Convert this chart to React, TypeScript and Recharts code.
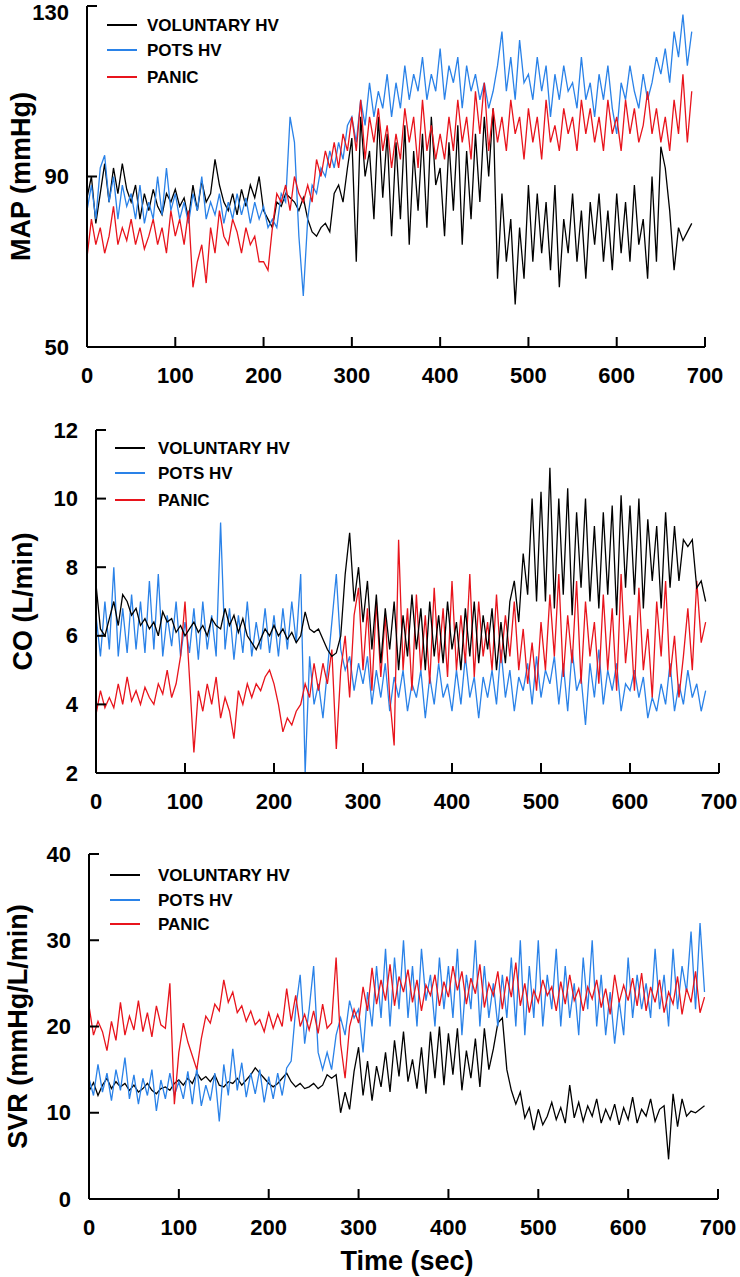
import React from 'react';
import { Legend, Line, LineChart, XAxis, YAxis } from 'recharts';

const STEP = 5;

const MAP_VOL = [
  85, 90, 79, 86, 93, 84, 92, 86, 93, 87,
  84, 88, 80, 86, 82, 87, 83, 81, 86, 84,
  87, 83, 85, 80, 88, 82, 89, 84, 86, 94,
  88, 84, 82, 86, 81, 87, 83, 88, 85, 90,
  82, 80, 78, 84, 83, 86, 85, 84, 82, 85,
  80, 77, 76, 78, 79, 77, 86, 88, 84, 92,
  99, 70, 104, 90, 96, 80, 104, 85, 100, 76,
  98, 80, 102, 74, 96, 82, 100, 78, 104, 88,
  92, 76, 98, 82, 102, 74, 96, 80, 100, 84,
  104, 90, 106, 66, 86, 70, 80, 60, 78, 66,
  88, 70, 86, 72, 84, 68, 88, 64, 80, 72,
  86, 70, 82, 66, 84, 74, 86, 70, 82, 68,
  86, 72, 84, 70, 88, 74, 80, 66, 90, 70,
  97, 92, 82, 68, 78, 75, 77, 79,
];
const MAP_POTS = [
  82, 88, 80, 92, 95, 84, 90, 80, 88, 83,
  86, 80, 88, 79, 84, 80, 90, 81, 92, 82,
  86, 80, 84, 79, 86, 82, 90, 80, 84, 81,
  86, 79, 84, 80, 86, 81, 85, 79, 84, 80,
  83, 78, 80, 78, 86, 84, 104, 98, 76, 62,
  80, 88, 86, 92, 90, 96, 92, 98, 94, 102,
  104, 98, 108, 102, 112, 104, 110, 106, 114, 104,
  112, 106, 116, 108, 114, 110, 118, 108, 114, 110,
  120, 108, 116, 112, 118, 106, 116, 110, 114, 108,
  112, 106, 110, 116, 124, 110, 118, 108, 122, 112,
  114, 108, 118, 110, 116, 104, 114, 108, 116, 110,
  112, 106, 118, 108, 112, 104, 114, 108, 116, 106,
  100, 112, 108, 116, 110, 106, 114, 108, 112, 118,
  114, 120, 112, 124, 118, 128, 116, 124,
];
const MAP_PANIC = [
  71, 80, 74, 78, 72, 76, 83, 74, 78, 75,
  80, 74, 78, 73, 76, 80, 74, 78, 72, 82,
  76, 80, 74, 82, 64, 70, 74, 65, 78, 72,
  82, 76, 74, 80, 77, 72, 78, 74, 76, 70,
  70, 68, 78, 86, 84, 88, 82, 90, 86, 84,
  88, 84, 94, 90, 96, 92, 98, 92, 100, 96,
  104, 96, 108, 94, 104, 98, 106, 96, 102, 92,
  100, 94, 106, 98, 104, 92, 108, 96, 102, 94,
  100, 94, 104, 96, 108, 98, 104, 94, 110, 100,
  112, 96, 106, 98, 104, 96, 108, 100, 104, 94,
  106, 98, 104, 94, 108, 98, 102, 96, 106, 100,
  104, 96, 108, 100, 106, 98, 104, 96, 108, 100,
  104, 96, 108, 100, 106, 98, 102, 110, 100, 106,
  98, 104, 96, 108, 100, 114, 98, 110,
];

const CO_VOL = [
  7.5, 6.2, 6.0, 6.5, 7.0, 6.3, 7.2, 7.0, 6.6, 6.8,
  6.3, 6.5, 6.2, 6.4, 6.0, 6.7, 6.4, 6.5, 6.1, 6.3,
  6.0, 6.2, 6.4, 6.1, 6.3, 6.0, 6.5, 6.3, 6.2, 6.8,
  6.3, 6.6, 6.1, 6.5, 6.0, 5.8, 5.6, 5.9, 6.2, 6.0,
  6.3, 6.0, 6.2, 5.9, 6.1, 5.8, 6.0, 6.7, 6.2, 6.1,
  6.2, 5.9, 5.6, 5.4, 5.5, 6.0, 7.8, 9.0, 7.0, 8.0,
  6.4, 7.6, 5.6, 7.2, 5.2, 6.8, 5.6, 7.0, 5.0, 6.6,
  5.4, 7.2, 5.6, 6.8, 5.0, 7.0, 5.4, 6.6, 5.2, 7.0,
  5.6, 6.4, 5.0, 6.8, 5.4, 7.0, 5.2, 6.6, 5.6, 6.8,
  5.0, 6.4, 5.2, 7.0, 7.6, 6.4, 8.4, 7.2, 10.0, 7.0,
  10.2, 7.0, 10.9, 6.8, 10.0, 7.2, 10.3, 6.6, 9.6, 7.4,
  10.0, 7.0, 9.2, 6.8, 9.6, 7.2, 9.8, 6.6, 10.1, 7.4,
  9.8, 7.2, 10.0, 6.8, 9.4, 7.6, 9.2, 6.8, 9.6, 7.4,
  9.2, 7.6, 8.8, 8.6, 8.8, 7.4, 7.6, 7.0,
];
const CO_POTS = [
  6.6, 5.4, 7.0, 5.6, 8.0, 5.4, 6.8, 5.5, 7.2, 5.6,
  7.0, 5.5, 7.6, 5.6, 7.8, 5.4, 6.6, 5.7, 7.0, 5.4,
  6.4, 5.5, 6.8, 5.3, 7.0, 5.6, 6.6, 5.4, 9.3, 5.6,
  6.8, 5.3, 6.6, 5.5, 7.0, 5.4, 6.4, 5.6, 6.8, 5.5,
  6.6, 5.4, 6.8, 5.6, 7.0, 5.8, 7.8, 2.0, 5.4, 4.0,
  4.6, 3.6, 5.0, 6.4, 7.8, 5.6, 5.0, 5.4, 4.4, 5.2,
  4.6, 5.4, 4.0, 5.0, 4.2, 5.2, 3.8, 4.8, 4.2, 5.0,
  3.8, 4.6, 4.2, 5.0, 3.6, 4.8, 4.0, 5.2, 4.2, 4.6,
  3.8, 5.0, 4.0, 5.4, 4.2, 4.8, 3.6, 4.8, 4.2, 5.0,
  4.0, 5.6, 4.2, 5.0, 3.8, 4.8, 4.4, 5.2, 4.0, 5.4,
  4.2, 5.0, 4.6, 5.4, 4.0, 5.2, 3.8, 5.6, 4.4, 4.8,
  3.4, 5.2, 4.2, 5.6, 4.0, 5.0, 4.4, 5.2, 3.8, 4.6,
  4.4, 5.0, 4.2, 4.8, 3.6, 4.2, 3.8, 4.6, 4.0, 5.2,
  3.8, 4.6, 4.0, 5.0, 4.2, 4.6, 3.8, 4.4,
];
const CO_PANIC = [
  3.7, 4.4, 3.9, 4.2, 3.9, 4.6, 4.0, 4.8, 4.1, 4.4,
  4.0, 4.5, 4.2, 4.0, 4.6, 4.3, 5.0, 4.2, 4.6, 5.4,
  7.0, 4.8, 2.6, 4.4, 3.8, 4.6, 4.0, 4.8, 3.6, 4.2,
  3.8, 3.0, 4.4, 4.0, 4.6, 4.2, 4.6, 4.4, 4.8, 5.0,
  4.6, 4.0, 3.2, 3.6, 3.4, 3.8, 4.0, 4.6, 4.2, 5.2,
  4.4, 5.2, 4.6, 5.6, 2.7, 5.0, 6.0, 4.2, 6.6, 7.4,
  5.0, 6.8, 4.4, 7.0, 4.8, 6.6, 4.2, 2.8, 8.8, 5.0,
  6.8, 4.4, 7.2, 5.0, 6.6, 4.6, 7.4, 5.2, 6.8, 4.8,
  7.6, 5.0, 6.6, 5.2, 7.8, 4.8, 7.0, 5.4, 6.4, 5.0,
  7.2, 5.2, 6.6, 5.4, 7.0, 5.0, 6.2, 4.6, 5.8, 4.4,
  6.4, 5.0, 7.2, 5.4, 7.8, 4.8, 6.6, 5.2, 7.6, 4.6,
  7.0, 5.4, 6.4, 4.6, 7.2, 5.0, 6.8, 4.4, 7.8, 5.2,
  6.6, 4.4, 7.4, 5.0, 6.2, 4.2, 7.0, 5.4, 7.6, 4.8,
  6.0, 4.2, 5.4, 6.8, 5.0, 7.6, 5.8, 6.4,
];

const SVR_VOL = [
  12.5, 13.5, 12.0, 13.2, 14.0, 12.8, 13.6, 13.0, 13.4, 12.6,
  13.2, 12.4, 12.8, 13.4, 12.6, 12.2, 12.8, 13.0, 12.6, 13.4,
  13.8, 13.2, 14.0, 13.4, 14.6, 13.8, 14.2, 13.6, 14.4, 13.2,
  13.0, 13.6, 13.4, 14.0, 13.2, 13.8, 14.4, 15.2, 14.6, 14.0,
  13.4, 13.0, 13.4, 14.0, 14.6, 13.6, 13.0, 13.4, 12.8, 13.0,
  13.4, 12.8, 13.2, 14.4, 14.0, 14.4, 10.0, 12.4, 10.4, 14.8,
  17.6, 12.0, 16.0, 11.4, 15.4, 13.0, 17.0, 12.4, 18.4, 14.2,
  19.4, 13.6, 16.2, 12.8, 17.6, 12.2, 19.4, 14.0, 20.0, 13.2,
  19.2, 14.4, 19.8, 12.6, 17.2, 14.0, 18.6, 13.0, 19.8, 15.0,
  17.4, 20.4, 21.0, 15.0, 12.6, 11.0, 12.4, 9.4, 10.6, 8.0,
  10.4, 8.6, 9.6, 11.2, 9.2, 10.6, 8.8, 13.2, 9.4, 11.2,
  9.0, 10.8, 9.6, 11.6, 8.8, 10.4, 9.2, 11.0, 8.6, 10.6,
  9.2, 11.8, 8.8, 10.4, 9.6, 11.6, 9.0, 10.4, 10.8, 4.6,
  12.2, 8.4, 11.6, 9.6, 10.2, 10.0, 10.4, 10.8,
];
const SVR_POTS = [
  14.0, 12.0, 15.6, 12.4, 14.6, 11.4, 15.0, 12.6, 16.4, 11.6,
  14.4, 11.0, 14.0, 12.0, 15.0, 10.2, 13.8, 11.6, 14.6, 12.0,
  13.6, 11.6, 14.8, 11.0, 15.2, 10.8, 13.2, 11.4, 14.6, 9.0,
  15.6, 12.0, 17.4, 12.6, 15.8, 11.8, 14.6, 12.2, 15.0, 11.2,
  14.2, 11.6, 14.6, 12.0, 15.2, 16.0, 22.0, 26.0, 18.0, 22.0,
  27.0, 17.0, 15.0, 17.0, 15.0, 19.0, 21.0, 19.0, 23.0, 21.0,
  22.0, 17.0, 24.0, 20.0, 27.0, 21.0, 29.0, 20.0, 28.0, 22.0,
  30.0, 21.0, 27.0, 20.0, 29.0, 23.0, 26.0, 20.0, 28.0, 22.0,
  27.0, 21.0, 29.0, 19.0, 26.0, 22.0, 30.0, 20.0, 27.0, 21.0,
  25.0, 20.0, 26.0, 21.0, 28.0, 20.0, 30.0, 19.0, 27.0, 21.0,
  30.0, 20.0, 26.0, 22.0, 29.0, 20.0, 27.0, 21.0, 25.0, 19.0,
  28.0, 22.0, 30.0, 20.0, 26.0, 19.0, 24.0, 18.0, 23.0, 19.0,
  28.0, 21.0, 26.0, 22.0, 25.0, 21.0, 29.0, 22.0, 26.0, 20.0,
  29.0, 22.0, 27.0, 24.0, 31.0, 22.0, 32.0, 24.0,
];
const SVR_PANIC = [
  22.4, 19.0, 20.6, 19.4, 17.2, 20.6, 18.4, 22.8, 19.0, 21.2,
  19.6, 23.0, 19.4, 21.6, 18.8, 22.4, 20.2, 19.8, 25.0, 11.0,
  17.0, 20.4, 18.2, 16.6, 15.0, 18.6, 21.2, 20.4, 22.6, 21.8,
  25.4, 22.8, 24.0, 21.6, 22.4, 20.6, 21.8, 20.2, 20.8, 19.4,
  21.6, 19.8, 21.4, 20.0, 24.4, 20.6, 23.6, 20.0, 21.4, 19.6,
  21.8, 19.2, 22.6, 19.8, 20.4, 28.0, 18.0, 14.0, 20.0, 22.0,
  20.4, 24.6, 21.8, 26.8, 22.6, 25.4, 23.0, 27.2, 22.4, 25.8,
  24.0, 26.6, 22.8, 25.4, 21.8, 24.8, 23.6, 26.0, 22.4, 25.2,
  23.4, 27.0, 24.2, 26.4, 22.6, 25.6, 23.8, 27.2, 22.2, 25.0,
  23.6, 26.4, 22.0, 25.8, 23.4, 27.4, 22.4, 25.0, 21.6, 24.2,
  22.8, 25.4, 23.6, 24.6, 21.8, 25.2, 22.6, 26.0, 23.0, 24.4,
  21.8, 24.6, 23.2, 25.4, 22.2, 24.4, 21.4, 26.0, 22.8, 24.8,
  23.0, 25.6, 22.4, 26.2, 21.8, 24.6, 22.8, 25.4, 21.6, 24.0,
  22.6, 25.8, 21.4, 24.4, 22.8, 26.4, 21.6, 23.4,
];

const X_TICKS = [0, 100, 200, 300, 400, 500, 600, 700];

const SERIES = [
  { key: 'vol', name: 'VOLUNTARY HV', color: '#000000' },
  { key: 'pots', name: 'POTS HV', color: '#2a82e8' },
  { key: 'panic', name: 'PANIC', color: '#e8141c' },
];

const FONT = 'Arial, "Liberation Sans", Helvetica, sans-serif';

const toRows = (vol: number[], pots: number[], panic: number[]) =>
  vol.map((v, i) => ({ t: i * STEP, vol: v, pots: pots[i], panic: panic[i] }));

const YTitle = ({ viewBox, text, posX }: any) => {
  const cy = viewBox ? viewBox.y + viewBox.height / 2 : 0;
  return (
    <text
      x={posX}
      y={cy}
      transform={`rotate(-90 ${posX} ${cy})`}
      textAnchor="middle"
      dominantBaseline="central"
      fontFamily={FONT}
      fontWeight="bold"
      fontSize={27}
      fill="#000"
    >
      {text}
    </text>
  );
};

const XTitle = ({ text, posX, posY }: any) => (
  <text x={posX} y={posY} textAnchor="middle" fontFamily={FONT} fontWeight="bold" fontSize={27} fill="#000">
    {text}
  </text>
);

// y tick text, kept inside the picture when it sits on the very top edge
const YTick = ({ x, y, payload }: any) => (
  <text
    x={x}
    y={Math.max(y, 12)}
    textAnchor="end"
    dominantBaseline="central"
    fontFamily={FONT}
    fontWeight="bold"
    fontSize={22}
    fill="#000"
  >
    {payload.value}
  </text>
);

const LegendBlock = ({ lineX, textX, rows }: { lineX: number; textX: number; rows: number[] }) => (
  <svg width={300} height={rows[2] + 15} style={{ position: 'absolute', left: 0, top: 0, overflow: 'visible' }}>
    {SERIES.map((s, i) => (
      <g key={s.key}>
        <line x1={lineX} x2={lineX + 30} y1={rows[i]} y2={rows[i]} stroke={s.color} strokeWidth={2} />
        <text
          x={textX}
          y={rows[i]}
          dominantBaseline="central"
          fontFamily={FONT}
          fontWeight="bold"
          fontSize={17}
          fill="#000"
        >
          {s.name}
        </text>
      </g>
    ))}
  </svg>
);

interface PanelProps {
  top: number;
  height: number;
  rows: { t: number; vol: number; pots: number; panic: number }[];
  margin: { top: number; right: number; bottom: number; left: number };
  yDomain: [number, number];
  yTicks: number[];
  yTitle: string;
  yTitleX: number;
  legend: { lineX: number; textX: number; rows: number[] };
  xTitle?: { text: string; x: number; y: number };
  order: string[];
}

const axisStyle = { stroke: '#000', strokeWidth: 2 };
const tickStyle = { fill: '#000', fontSize: 22, fontWeight: 'bold', fontFamily: FONT };

const Panel = ({ top, height, rows, margin, yDomain, yTicks, yTitle, yTitleX, legend, xTitle, order }: PanelProps) => (
  <div style={{ position: 'absolute', left: 0, top }}>
    <LineChart width={740} height={height} data={rows} margin={margin}>
      <XAxis
        dataKey="t"
        type="number"
        domain={[0, 700]}
        ticks={X_TICKS}
        interval={0}
        height={30}
        axisLine={axisStyle}
        tickLine={axisStyle}
        tickSize={-10}
        tickMargin={30}
        tick={tickStyle}
        label={xTitle ? <XTitle text={xTitle.text} posX={xTitle.x} posY={xTitle.y} /> : undefined}
      />
      <YAxis
        type="number"
        domain={yDomain}
        ticks={yTicks}
        interval={0}
        width={60}
        axisLine={axisStyle}
        tickLine={axisStyle}
        tickSize={-10}
        tickMargin={28}
        tick={<YTick />}
        label={<YTitle text={yTitle} posX={yTitleX} />}
      />
      <Legend
        layout="vertical"
        align="center"
        verticalAlign="top"
        wrapperStyle={{ position: 'absolute', left: 0, top: 0, width: 0, height: 0 }}
        content={() => <LegendBlock {...legend} />}
      />
      {order.map((key) => {
        const s = SERIES.find((x) => x.key === key)!;
        return (
          <Line
            key={s.key}
            type="linear"
            dataKey={s.key}
            name={s.name}
            stroke={s.color}
            strokeWidth={1.3}
            dot={false}
            activeDot={false}
            isAnimationActive={false}
          />
        );
      })}
    </LineChart>
  </div>
);

const mapRows = toRows(MAP_VOL, MAP_POTS, MAP_PANIC);
const coRows = toRows(CO_VOL, CO_POTS, CO_PANIC);
const svrRows = toRows(SVR_VOL, SVR_POTS, SVR_PANIC);

export default function App() {
  return (
    <div style={{ position: 'absolute', left: 0, top: 0, width: 740, height: 1277, background: '#fff' }}>
      <Panel
        top={0}
        height={400}
        rows={mapRows}
        margin={{ top: 6, right: 35, bottom: 23, left: 27 }}
        yDomain={[50, 130]}
        yTicks={[50, 90, 130]}
        yTitle="MAP (mmHg)"
        yTitleX={21}
        legend={{ lineX: 107, textX: 147, rows: [25, 50, 77] }}
        order={['vol', 'pots', 'panic']}
      />
      <Panel
        top={410}
        height={418}
        rows={coRows}
        margin={{ top: 20, right: 21, bottom: 25, left: 36 }}
        yDomain={[2, 12]}
        yTicks={[2, 4, 6, 8, 10, 12]}
        yTitle="CO (L/min)"
        yTitleX={23}
        legend={{ lineX: 115, textX: 158, rows: [38, 63, 90] }}
        order={['pots', 'panic', 'vol']}
      />
      <Panel
        top={830}
        height={447}
        rows={svrRows}
        margin={{ top: 24, right: 22, bottom: 48, left: 29 }}
        yDomain={[0, 40]}
        yTicks={[0, 10, 20, 30, 40]}
        yTitle="SVR (mmHg/L/min)"
        yTitleX={18}
        legend={{ lineX: 110, textX: 158, rows: [45, 70, 94] }}
        xTitle={{ text: 'Time (sec)', x: 407, y: 440 }}
        order={['vol', 'pots', 'panic']}
      />
    </div>
  );
}
